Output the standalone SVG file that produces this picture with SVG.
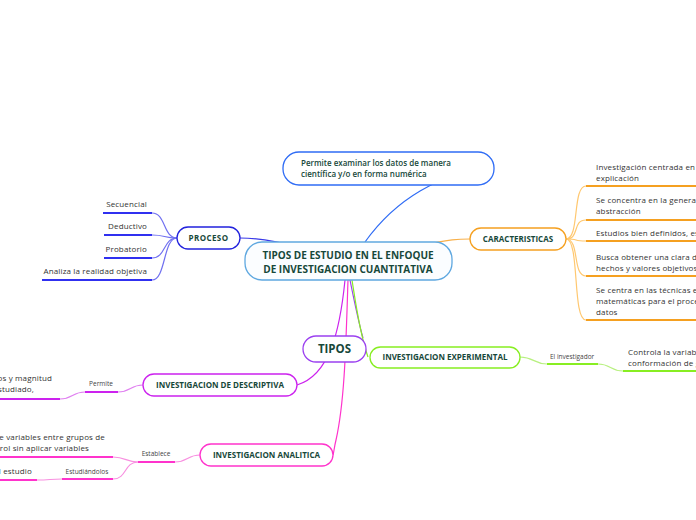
<svg xmlns="http://www.w3.org/2000/svg" width="696" height="520" viewBox="0 0 696 520">
<style>
.nt{font-family:"Open Sans","Noto Sans",sans-serif;font-weight:700;fill:#17483a;text-anchor:middle}
.lt{font-family:"Open Sans","Noto Sans",sans-serif;font-size:8px;fill:#333;letter-spacing:0.15px}
.sl{font-family:"Open Sans","Noto Sans",sans-serif;font-size:6.5px;fill:#444}
.c{fill:none;stroke-width:1.2}
.u{fill:none;stroke-width:2}
.box{fill:#fff;stroke-width:1.3}
</style>
<rect width="696" height="520" fill="#fff"/>
<g id="connectors">
  <path class="c" stroke="#2f6cf5" d="M365,242 C395,200 440,172 494,168"/>
  <path class="c" stroke="#3a3ae8" d="M240,238 C262,238 270,241 287,244"/>
  <path class="c" stroke="#f8b04a" d="M428,244 C450,240 455,239 470,239"/>
  <path class="c" stroke="#cc22ee" d="M345,280 C340,330 330,375 297,385"/>
  <path class="c" stroke="#ff33cc" d="M348,280 C346,340 345,400 336,440 C334,448 334,452 333,455"/>
  <path class="c" stroke="#9b40f0" d="M350,280 C354,300 358,320 363,338"/>
  <path class="c" stroke="#88ee22" d="M352,280 C356,305 360,335 368,357"/>
  <g stroke="#7070f0">
    <path class="c" d="M177,238 C163,238 166,213 152,213"/>
    <path class="c" d="M177,238 C163,238 166,235 152,235"/>
    <path class="c" d="M177,238 C163,238 166,258 152,258"/>
    <path class="c" d="M177,238 C163,238 166,280 152,280"/>
  </g>
  <g stroke="#3030f0">
    <path class="u" d="M103,213 H152"/>
    <path class="u" d="M104,235 H152"/>
    <path class="u" d="M104,258 H152"/>
    <path class="u" d="M42,280 H152"/>
  </g>
  <g stroke="#ffc870">
    <path class="c" d="M566,239 C580,239 572,186 586,186"/>
    <path class="c" d="M566,239 C580,239 572,220 586,220"/>
    <path class="c" d="M566,239 C580,239 572,241 586,241"/>
    <path class="c" d="M566,239 C580,239 572,276 586,276"/>
    <path class="c" d="M566,239 C580,239 572,320 586,320"/>
  </g>
  <g stroke="#f5a020">
    <path class="u" d="M586,186 H696"/>
    <path class="u" d="M586,220 H696"/>
    <path class="u" d="M586,241 H696"/>
    <path class="u" d="M586,276 H696"/>
    <path class="u" d="M586,320 H696"/>
  </g>
  <path class="c" stroke="#b8f080" d="M520,357 C534,357 534,364 547,364"/>
  <path class="u" stroke="#88ee22" d="M547,364 H598"/>
  <path class="c" stroke="#b8f080" d="M598,364 C611,364 610,371 623,371"/>
  <path class="u" stroke="#88ee22" d="M623,371 H696"/>
  <path class="c" stroke="#e080f0" d="M143,385 C130,385 131,392 118,392"/>
  <path class="u" stroke="#cc22ee" d="M85,392 H118"/>
  <path class="c" stroke="#e080f0" d="M85,392 C72,392 73,399 60,399"/>
  <path class="u" stroke="#cc22ee" d="M0,399 H60"/>
  <path class="c" stroke="#f890e0" d="M200,455 C187,455 188,462 175,462"/>
  <path class="u" stroke="#ff33cc" d="M138,462 H175"/>
  <path class="c" stroke="#f890e0" d="M138,462 C126,462 126,457 113,457"/>
  <path class="c" stroke="#f890e0" d="M138,462 C124,462 127,479 113,479"/>
  <path class="u" stroke="#ff33cc" d="M0,457 H113"/>
  <path class="u" stroke="#ff33cc" d="M62,479 H113"/>
  <path class="c" stroke="#f890e0" d="M62,479 C50,479 50,480 37,480"/>
  <path class="u" stroke="#ff33cc" d="M0,480 H37"/>
</g>
<g id="center">
  <rect x="245" y="242" width="207" height="38" rx="17" fill="#fbfdff" stroke="#5fa8e0" stroke-width="1.3"/>
  <text class="nt" x="348" y="259" font-size="10">TIPOS DE ESTUDIO EN EL ENFOQUE</text>
  <text class="nt" x="348" y="273" font-size="10">DE INVESTIGACION CUANTITATIVA</text>
</g>
<g id="permite-examinar">
  <rect class="box" x="283" y="152" width="211" height="33" rx="16" stroke="#2f6cf5"/>
  <text class="nt" x="301" y="166" font-size="8" style="text-anchor:start;font-weight:600">Permite examinar los datos de manera</text>
  <text class="nt" x="301" y="177" font-size="8" style="text-anchor:start;font-weight:600">científica y/o en forma numérica</text>
</g>
<g id="proceso">
  <rect class="box" x="177" y="227" width="63" height="22" rx="11" stroke="#2222dd"/>
  <text class="nt" x="208.5" y="241" font-size="8" letter-spacing="0.4">PROCESO</text>
</g>
<g id="proceso-leaves">
  <text class="lt" x="147" y="207" text-anchor="end">Secuencial</text>
  <text class="lt" x="147" y="229" text-anchor="end">Deductivo</text>
  <text class="lt" x="147" y="252" text-anchor="end">Probatorio</text>
  <text class="lt" x="147" y="274" text-anchor="end">Analiza la realidad objetiva</text>
</g>
<g id="caracteristicas">
  <rect class="box" x="470" y="228" width="96" height="22" rx="11" stroke="#f5a020"/>
  <text class="nt" x="518" y="242" font-size="8">CARACTERISTICAS</text>
</g>
<g id="caracteristicas-leaves">
  <text class="lt" x="596" y="170">Investigación centrada en la</text>
  <text class="lt" x="596" y="181">explicación</text>
  <text class="lt" x="596" y="203">Se concentra en la generalización y</text>
  <text class="lt" x="596" y="214">abstracción</text>
  <text class="lt" x="596" y="236">Estudios bien definidos, estructurados</text>
  <text class="lt" x="596" y="260">Busca obtener una clara distinción entre</text>
  <text class="lt" x="596" y="271">hechos y valores objetivos</text>
  <text class="lt" x="596" y="293">Se centra en las técnicas estadísticas</text>
  <text class="lt" x="596" y="304">matemáticas para el procesamiento de</text>
  <text class="lt" x="596" y="315">datos</text>
</g>
<g id="tipos">
  <rect class="box" x="303" y="336" width="63" height="26" rx="13" stroke="#9b40f0"/>
  <text class="nt" x="334.5" y="353" font-size="11.5">TIPOS</text>
</g>
<g id="experimental">
  <rect class="box" x="370" y="347" width="150" height="21" rx="10.5" stroke="#88ee22"/>
  <text class="nt" x="445" y="360" font-size="8">INVESTIGACION EXPERIMENTAL</text>
  <text class="sl" x="550" y="359">El investigador</text>
  <text class="lt" x="628" y="355">Controla la variable y la</text>
  <text class="lt" x="628" y="366">conformación  de grupos</text>
</g>
<g id="descriptiva">
  <rect class="box" x="143" y="374" width="154" height="22" rx="11" stroke="#cc22ee"/>
  <text class="nt" x="220" y="388" font-size="8">INVESTIGACION DE DESCRIPTIVA</text>
  <text class="sl" x="101" y="386" text-anchor="middle">Permite</text>
  <text class="lt" x="52" y="381" text-anchor="end">Describe los datos y magnitud</text>
  <text class="lt" x="34" y="392" text-anchor="end">del fenómeno estudiado,</text>
</g>
<g id="analitica">
  <rect class="box" x="200" y="444" width="133" height="22" rx="11" stroke="#ff33cc"/>
  <text class="nt" x="266.5" y="458" font-size="8">INVESTIGACION ANALITICA</text>
  <text class="sl" x="156" y="456" text-anchor="middle">Establece</text>
  <text class="sl" x="87" y="474" text-anchor="middle">Estudiándolos</text>
  <text class="lt" x="105" y="440" text-anchor="end">Comparación de variables entre grupos de</text>
  <text class="lt" x="89" y="451" text-anchor="end">estudio y de control sin aplicar variables</text>
  <text class="lt" x="32" y="474" text-anchor="end">del estudio</text>
</g>
</svg>
